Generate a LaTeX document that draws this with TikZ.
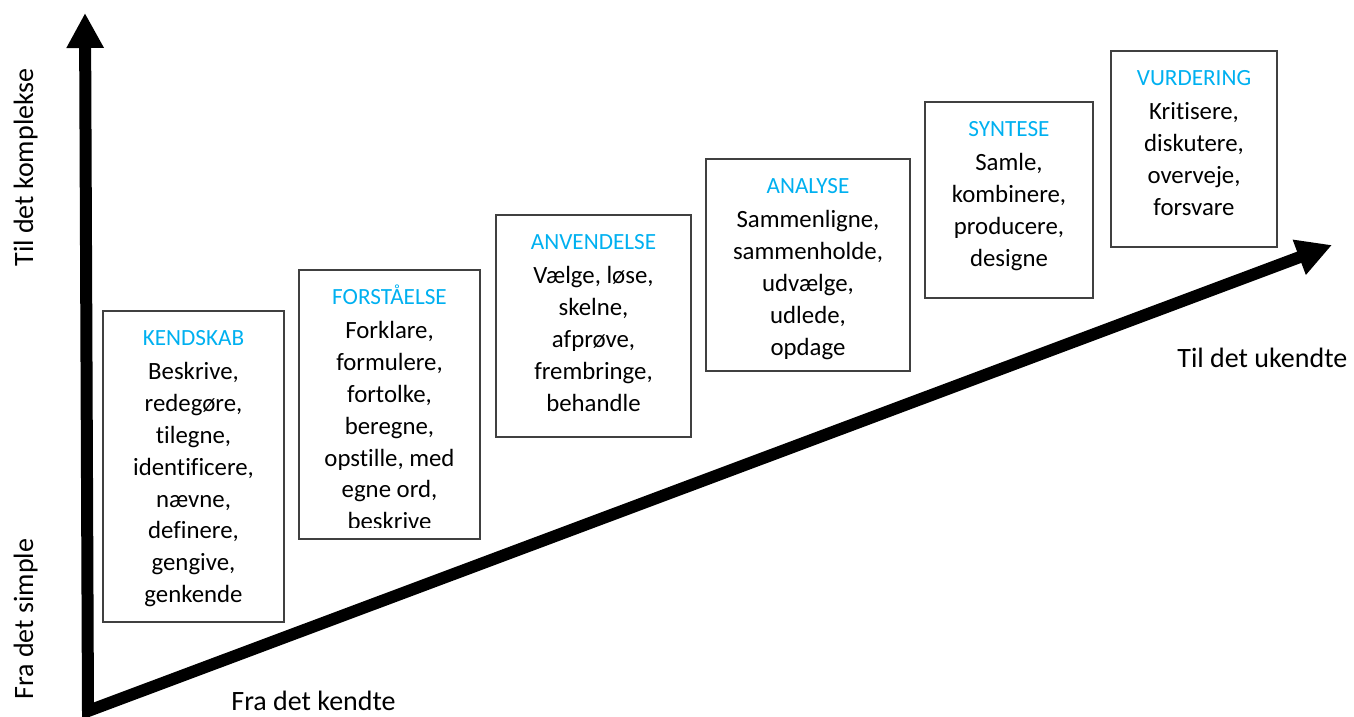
\documentclass[tikz,border=0pt]{standalone}
\usepackage{fontspec}
\setmainfont{Carlito}[Ligatures=NoCommon]
\usetikzlibrary{arrows.meta}
\definecolor{stageblue}{RGB}{0,176,240}
\newcommand{\stagetitle}[1]{\rule{0pt}{17pt}{\color{stageblue}\fontsize{11.6}{15.95}\selectfont #1}\\[1.05pt]}
\begin{document}
\begin{tikzpicture}[
    x=0.5pt, y=-0.5pt,
    stagebox/.style={rectangle, draw=black!75, line width=0.6pt, anchor=north west, inner sep=0pt, outer sep=0pt},
    stagetext/.style={anchor=north, inner sep=0pt, align=center, font=\fontsize{12.4}{15.95}\selectfont},
    axislabel/.style={anchor=base west, inner sep=0pt, font=\fontsize{14}{17}\selectfont},
    axis/.style={line width=6pt, line join=miter, {Triangle[length=17.5pt,width=17.5pt]}-{Triangle[length=17.5pt,width=17.5pt]}}
]
\useasboundingbox (0,0) rectangle (1354,717);

% Axes
\coordinate (origin) at (88,711);
\coordinate (complex) at (85,13);
\coordinate (unknown) at (1332,245);
\draw[axis] (complex) -- (origin) -- (unknown);

\node[axislabel] (known) at (231,710) {Fra det kendte};
\node[axislabel] (unknownlabel) at (1177,367) {Til det ukendte};
\node[axislabel, rotate=90] (simple) at (33,700) {Fra det simple};
\node[axislabel, rotate=90] (complexlabel) at (33,267) {Til det komplekse};

% Stages
\node[stagebox, minimum width=90.5pt, minimum height=155.5pt] (kendskab) at (103,311) {};
\node[stagetext] (kendskab text) at (kendskab.north) {\stagetitle{KENDSKAB}Beskrive,\\redegøre,\\tilegne,\\identificere,\\nævne,\\definere,\\gengive,\\genkende};

\node[stagebox, minimum width=90.5pt, minimum height=134.5pt] (forstaaelse) at (299,270) {};
\begin{scope}
    \clip (forstaaelse.north west) rectangle ([yshift=6pt]forstaaelse.south east);
    \node[stagetext] (forstaaelse text) at (forstaaelse.north) {\stagetitle{FORSTÅELSE}Forklare,\\formulere,\\fortolke,\\beregne,\\opstille, med\\egne ord,\\beskrive};
\end{scope}

\node[stagebox, minimum width=97.5pt, minimum height=111pt] (anvendelse) at (496,215) {};
\node[stagetext] (anvendelse text) at (anvendelse.north) {\stagetitle{ANVENDELSE}Vælge, løse,\\skelne,\\afprøve,\\frembringe,\\behandle};

\node[stagebox, minimum width=102pt, minimum height=106pt] (analyse) at (706,159) {};
\node[stagetext] (analyse text) at (analyse.north) {\stagetitle{ANALYSE}Sammenligne,\\sammenholde,\\udvælge,\\udlede,\\opdage};

\node[stagebox, minimum width=84pt, minimum height=98pt] (syntese) at (925,102) {};
\node[stagetext] (syntese text) at (syntese.north) {\stagetitle{SYNTESE}Samle,\\kombinere,\\producere,\\designe};

\node[stagebox, minimum width=83pt, minimum height=98pt] (vurdering) at (1111,51) {};
\node[stagetext] (vurdering text) at (vurdering.north) {\stagetitle{VURDERING}Kritisere,\\diskutere,\\overveje,\\forsvare};

\end{tikzpicture}
\end{document}
